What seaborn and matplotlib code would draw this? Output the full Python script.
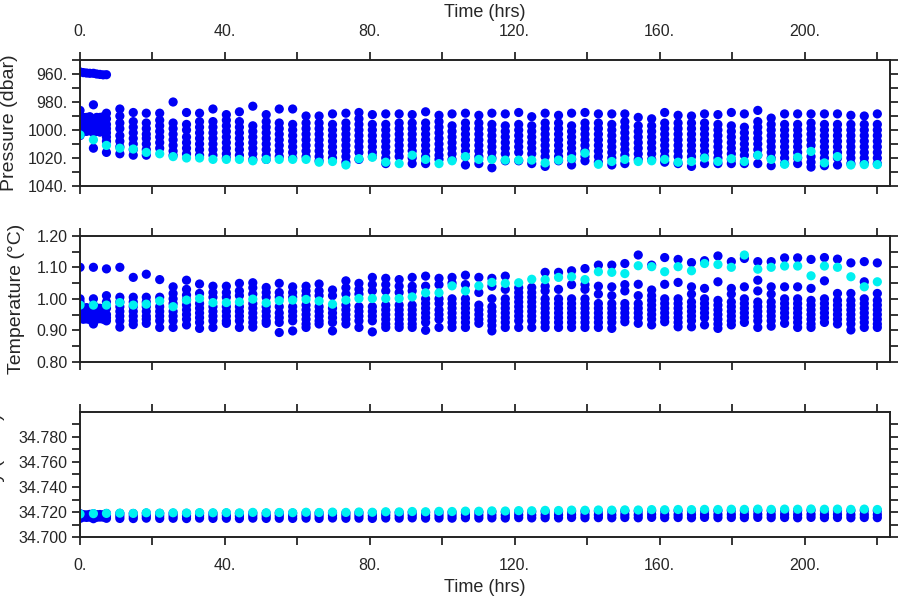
import matplotlib
matplotlib.use("Agg")
import matplotlib.pyplot as plt
import pandas as pd
import seaborn as sns
from matplotlib.ticker import FuncFormatter, MultipleLocator

# profile times (hrs)
TIME = [0.0, 3.7, 7.3, 11.0, 14.7, 18.3, 22.0, 25.7, 29.4, 33.0,
        36.7, 40.4, 44.0, 47.7, 51.4, 55.0, 58.7, 62.4, 66.0, 69.7,
        73.4, 77.0, 80.7, 84.4, 88.1, 91.7, 95.4, 99.1, 102.7, 106.4,
        110.1, 113.7, 117.4, 121.1, 124.7, 128.4, 132.1, 135.7, 139.4, 143.1,
        146.8, 150.4, 154.1, 157.8, 161.4, 165.1, 168.8, 172.4, 176.1, 179.8,
        183.4, 187.1, 190.8, 194.5, 198.1, 201.8, 205.5, 209.1, 212.8, 216.5,
        220.1]

# extra high-rate samples at the start of the record
EARLY_TIME = [0.9, 1.8, 2.7, 4.6, 5.5, 6.4]
EARLY_PRES = [[959.0, 991, 994.5, 998, 1001], [959.3, 991, 994.5, 998, 1001],
              [959.5, 990.5, 994, 997.5, 1000.5], [960.0, 991, 994.5, 998, 1001],
              [960.3, 991, 994.5, 998, 1001.5], [960.6, 990.5, 994, 997.5, 1001]]
EARLY_TEMP = [[0.935, 0.947, 0.958, 0.970], [0.936, 0.948, 0.960, 0.972],
              [0.934, 0.946, 0.958, 0.968], [0.935, 0.947, 0.959, 0.971],
              [0.937, 0.949, 0.960, 0.970], [0.935, 0.947, 0.958, 0.969]]
EARLY_SAL = [[34.7160, 34.7180], [34.7158, 34.7178], [34.7160, 34.7182],
             [34.7159, 34.7180], [34.7161, 34.7181], [34.7160, 34.7179]]

# pressure (dbar): all samples per profile, and the reference sensor
PRES_ALL = [
    [958.5, 986, 992, 995, 998, 1001, 1004],
    [959.5, 982, 993, 996, 999, 1002, 1013],
    [960.5, 988, 992, 996, 999, 1002, 1005, 1008, 1016],
    [985, 990, 995, 999, 1004, 1008, 1012, 1017],
    [987.5, 994, 998, 1002, 1006, 1010, 1014, 1018],
    [988, 995, 999, 1003, 1006, 1010, 1014, 1018],
    [988, 993, 997, 1001, 1005, 1009, 1013],
    [980, 995, 999, 1003, 1007, 1011, 1015, 1018],
    [987.5, 996, 1000, 1005, 1009, 1013, 1017],
    [988, 994, 998, 1002, 1006, 1010, 1014, 1018],
    [985, 994, 998, 1002, 1006, 1010, 1014, 1018],
    [989, 993, 997, 1001, 1005, 1009, 1013, 1017, 1020],
    [987, 994, 998, 1002, 1006, 1010, 1014, 1018],
    [983, 997, 1001, 1005, 1009, 1013, 1017, 1021],
    [989, 994, 998, 1002, 1006, 1010, 1014, 1018, 1021],
    [985, 995, 999, 1003, 1007, 1011, 1015, 1019],
    [985, 996, 1000, 1004, 1008, 1012, 1016, 1020],
    [990, 995, 999, 1003, 1007, 1011, 1015, 1019],
    [990, 995, 999, 1003, 1007, 1011, 1015, 1019, 1022],
    [988.5, 996, 1000, 1004, 1008, 1012, 1016, 1020],
    [988, 995, 999, 1003, 1007, 1011, 1015, 1019, 1023],
    [987.5, 992, 996, 1000, 1004, 1008, 1012, 1016, 1021],
    [989, 996, 1000, 1004, 1008, 1012, 1016, 1019],
    [988.5, 996, 1000, 1004, 1008, 1012, 1016, 1020, 1024],
    [988.5, 995, 999, 1003, 1007, 1011, 1015, 1019],
    [989, 995, 999, 1003, 1007, 1011, 1015, 1020, 1024],
    [987, 995, 999, 1003, 1007, 1011, 1015, 1019, 1024],
    [989.5, 994, 998, 1002, 1006, 1010, 1014, 1018, 1021],
    [988.5, 997, 1001, 1005, 1009, 1013, 1017, 1021],
    [988, 995, 999, 1003, 1007, 1011, 1015, 1019, 1025],
    [989.5, 995, 999, 1003, 1007, 1011, 1015, 1019, 1024],
    [988, 996, 1000, 1004, 1008, 1012, 1016, 1020, 1027],
    [988.5, 997, 1001, 1005, 1009, 1013, 1017, 1022],
    [987.5, 996, 1000, 1004, 1008, 1012, 1016, 1022],
    [990.5, 997, 1001, 1005, 1009, 1013, 1017, 1024],
    [988, 995, 999, 1003, 1007, 1011, 1015, 1019, 1026],
    [989.5, 995, 999, 1003, 1007, 1011, 1015, 1019, 1022],
    [988, 997, 1001, 1005, 1009, 1013, 1017, 1021, 1025],
    [987.5, 995, 999, 1003, 1007, 1011, 1015, 1019, 1022],
    [988.5, 995, 999, 1003, 1007, 1011, 1015, 1019, 1023],
    [988.5, 996, 1000, 1004, 1008, 1012, 1016, 1020, 1025],
    [988.5, 994, 998, 1002, 1006, 1010, 1014, 1018, 1024],
    [991, 997, 1001, 1005, 1009, 1013, 1017, 1021],
    [992, 997, 1001, 1005, 1009, 1013, 1017, 1021],
    [987.5, 995, 999, 1003, 1007, 1011, 1015, 1019, 1023],
    [989.5, 995, 999, 1003, 1007, 1011, 1015, 1019, 1024],
    [990, 995, 999, 1003, 1007, 1011, 1015, 1019, 1026],
    [988.5, 995, 999, 1003, 1007, 1011, 1015, 1019, 1024],
    [989, 996, 1000, 1004, 1008, 1012, 1016, 1020, 1024],
    [987.5, 997, 1001, 1005, 1009, 1013, 1017, 1021, 1024],
    [988.5, 998, 1002, 1006, 1010, 1014, 1018, 1024],
    [986, 994, 998, 1002, 1006, 1010, 1014, 1018, 1024],
    [991.5, 996, 1000, 1004, 1008, 1012, 1016, 1020, 1025.5],
    [988.5, 996, 1000, 1004, 1008, 1012, 1016, 1020, 1024],
    [988.5, 996, 1000, 1004, 1008, 1012, 1016, 1020, 1024],
    [988.5, 995, 999, 1003, 1007, 1011, 1019, 1023, 1026.5],
    [988.5, 996, 1000, 1004, 1008, 1012, 1016, 1020, 1025.5],
    [988.5, 996, 1000, 1004, 1008, 1012, 1016, 1020, 1025],
    [989.5, 996, 1000, 1004, 1008, 1012, 1016, 1020, 1024],
    [990, 996, 1000, 1004, 1008, 1012, 1016, 1020, 1023.5],
    [988.5, 996, 1000, 1004, 1008, 1012, 1016, 1020, 1024],
]
PRES_REF = [1003.5, 1007, 1011, 1013, 1013.6, 1016, 1017, 1019, 1020, 1020,
            1021, 1021, 1021, 1022, 1021, 1021, 1021, 1021, 1023, 1022.5,
            1025, 1020.5, 1019.5, 1023, 1024, 1018, 1021, 1024, 1022, 1019,
            1021, 1021, 1021.5, 1021.5, 1021.5, 1023.5, 1021.5, 1020.5, 1016.5, 1024.5,
            1022.5, 1021, 1022.5, 1022, 1021, 1023, 1022.5, 1020, 1022.5, 1020.5,
            1022.5, 1018, 1021, 1024.5, 1019.5, 1015.3, 1023.5, 1019, 1025, 1024.7,
            1024.7]

# temperature (deg C)
TEMP_ALL = [
    [1.10, 1.00, 0.99, 0.97, 0.96, 0.95, 0.94],
    [1.10, 1.00, 0.98, 0.96, 0.95, 0.94, 0.92],
    [1.095, 1.01, 0.99, 0.97, 0.95, 0.94, 0.93],
    [1.10, 1.005, 0.99, 0.975, 0.96, 0.945, 0.93, 0.91],
    [1.068, 1.005, 0.99, 0.975, 0.96, 0.945, 0.93, 0.918],
    [1.078, 1.005, 0.99, 0.975, 0.96, 0.945, 0.935, 0.922],
    [1.061, 1.005, 0.975, 0.96, 0.945, 0.93, 0.909],
    [1.038, 1.017, 1.00, 0.985, 0.96, 0.945, 0.93, 0.909],
    [1.059, 1.03, 1.012, 0.997, 0.98, 0.965, 0.95, 0.935, 0.917],
    [1.047, 1.017, 0.985, 0.97, 0.955, 0.94, 0.925, 0.906],
    [1.04, 1.02, 1.005, 0.975, 0.96, 0.945, 0.93, 0.909],
    [1.04, 1.02, 1.005, 0.975, 0.96, 0.945, 0.93, 0.922],
    [1.049, 1.025, 1.01, 0.975, 0.96, 0.945, 0.93, 0.909],
    [1.051, 1.035, 1.015, 0.985, 0.97, 0.955, 0.94, 0.925, 0.91],
    [1.036, 1.02, 1.005, 0.975, 0.96, 0.945, 0.93, 0.922],
    [1.049, 1.02, 1.005, 0.975, 0.955, 0.94, 0.925, 0.893],
    [1.038, 1.02, 1.005, 0.975, 0.96, 0.945, 0.93, 0.898],
    [1.04, 1.025, 1.01, 0.98, 0.965, 0.95, 0.935, 0.92, 0.909],
    [1.047, 1.025, 1.01, 0.975, 0.96, 0.945, 0.93, 0.92],
    [1.028, 1.01, 0.97, 0.955, 0.94, 0.925, 0.898],
    [1.057, 1.035, 1.015, 0.98, 0.965, 0.95, 0.935, 0.92],
    [1.049, 1.03, 1.015, 0.975, 0.96, 0.945, 0.93, 0.909],
    [1.068, 1.045, 1.025, 0.975, 0.96, 0.945, 0.93, 0.895],
    [1.065, 1.045, 1.025, 0.98, 0.965, 0.95, 0.935, 0.92, 0.909],
    [1.061, 1.04, 1.02, 0.98, 0.965, 0.95, 0.935, 0.92, 0.909],
    [1.068, 1.04, 1.025, 0.98, 0.965, 0.95, 0.935, 0.92, 0.909],
    [1.072, 1.04, 1.0, 0.985, 0.97, 0.955, 0.94, 0.925, 0.90],
    [1.065, 1.045, 1.0, 0.985, 0.965, 0.95, 0.935, 0.909],
    [1.068, 1.05, 1.0, 0.985, 0.97, 0.955, 0.94, 0.925, 0.909],
    [1.075, 1.045, 1.0, 0.985, 0.97, 0.955, 0.94, 0.925, 0.909],
    [1.068, 1.02, 0.98, 0.965, 0.95, 0.935, 0.922],
    [1.065, 1.04, 1.0, 0.975, 0.96, 0.945, 0.93, 0.915, 0.898],
    [1.072, 1.03, 1.0, 0.985, 0.97, 0.955, 0.94, 0.925, 0.909],
    [1.035, 1.02, 1.005, 0.99, 0.975, 0.96, 0.945, 0.93, 0.909],
    [1.036, 1.02, 1.005, 0.99, 0.975, 0.96, 0.945, 0.93, 0.909],
    [1.084, 1.04, 1.025, 1.0, 0.985, 0.97, 0.955, 0.94, 0.925, 0.909],
    [1.084, 1.03, 1.0, 0.985, 0.97, 0.955, 0.94, 0.925, 0.909],
    [1.089, 1.045, 1.0, 0.985, 0.97, 0.955, 0.94, 0.925, 0.909],
    [1.096, 1.045, 1.03, 1.0, 0.985, 0.97, 0.955, 0.94, 0.925, 0.909],
    [1.107, 1.04, 1.015, 0.985, 0.97, 0.955, 0.94, 0.925, 0.909],
    [1.107, 1.038, 1.01, 0.985, 0.97, 0.955, 0.94, 0.925, 0.906],
    [1.112, 1.045, 1.025, 0.985, 0.97, 0.955, 0.94, 0.927],
    [1.139, 1.046, 1.01, 0.985, 0.97, 0.955, 0.94, 0.922],
    [1.107, 1.028, 1.01, 0.995, 0.98, 0.965, 0.95, 0.935, 0.917],
    [1.131, 1.046, 1.0, 0.985, 0.97, 0.955, 0.94, 0.927],
    [1.125, 1.052, 1.0, 0.985, 0.97, 0.955, 0.94, 0.925, 0.911],
    [1.115, 1.038, 1.015, 0.99, 0.975, 0.96, 0.945, 0.93, 0.911],
    [1.121, 1.033, 1.0, 0.985, 0.97, 0.955, 0.94, 0.917],
    [1.136, 1.054, 0.995, 0.98, 0.965, 0.95, 0.935, 0.92, 0.906],
    [1.118, 1.033, 1.015, 0.99, 0.975, 0.96, 0.945, 0.93, 0.917],
    [1.128, 1.038, 1.0, 0.985, 0.97, 0.955, 0.94, 0.925],
    [1.118, 1.059, 1.025, 0.99, 0.975, 0.96, 0.945, 0.93, 0.909],
    [1.118, 1.038, 1.015, 0.99, 0.975, 0.96, 0.945, 0.93, 0.913],
    [1.13, 1.038, 1.0, 0.985, 0.97, 0.955, 0.94, 0.922],
    [1.13, 1.038, 1.0, 0.985, 0.97, 0.955, 0.94, 0.925, 0.909],
    [1.125, 1.033, 0.995, 0.98, 0.965, 0.95, 0.935, 0.92, 0.909],
    [1.131, 1.057, 1.0, 0.985, 0.97, 0.955, 0.94, 0.925],
    [1.126, 1.017, 0.995, 0.98, 0.965, 0.95, 0.935, 0.92],
    [1.114, 1.017, 0.995, 0.98, 0.965, 0.95, 0.935, 0.92, 0.901],
    [1.118, 1.054, 1.0, 0.985, 0.97, 0.955, 0.94, 0.925, 0.909],
    [1.114, 1.017, 0.995, 0.98, 0.965, 0.95, 0.935, 0.92, 0.909],
]
TEMP_REF = [0.98, 0.98, 0.98, 0.988, 0.98, 0.983, 0.993, 0.975, 0.996, 1.001,
            0.988, 0.988, 0.99, 0.999, 0.987, 0.994, 0.996, 0.998, 0.993, 0.983,
            0.996, 1.001, 1.001, 1.001, 1.001, 1.006, 1.019, 1.019, 1.041, 1.025,
            1.041, 1.052, 1.049, 1.051, 1.062, 1.061, 1.068, 1.07, 1.061, 1.086,
            1.084, 1.08, 1.105, 1.102, 1.086, 1.102, 1.089, 1.112, 1.109, 1.10,
            1.139, 1.094, 1.10, 1.104, 1.104, 1.073, 1.104, 1.10, 1.07, 1.038,
            1.054]

# salinity (PSU): low / middle / high samples per profile, and the reference sensor
SAL_LOW = [34.7150, 34.7148, 34.7151, 34.7150, 34.7149, 34.7152, 34.7150, 34.7151, 34.7149, 34.7152,
           34.7150, 34.7151, 34.7149, 34.7152, 34.7150, 34.7151, 34.7150, 34.7152, 34.7150, 34.7153,
           34.7151, 34.7152, 34.7150, 34.7153, 34.7152, 34.7154, 34.7152, 34.7153, 34.7152, 34.7155,
           34.7153, 34.7154, 34.7153, 34.7156, 34.7154, 34.7155, 34.7154, 34.7157, 34.7155, 34.7156,
           34.7155, 34.7157, 34.7155, 34.7158, 34.7156, 34.7157, 34.7155, 34.7158, 34.7156, 34.7157,
           34.7156, 34.7158, 34.7156, 34.7157, 34.7155, 34.7158, 34.7156, 34.7157, 34.7155, 34.7157,
           34.7156]
SAL_MID = [34.7170, 34.7168, 34.7171, 34.7170, 34.7169, 34.7172, 34.7170, 34.7171, 34.7170, 34.7172,
           34.7171, 34.7172, 34.7170, 34.7173, 34.7171, 34.7172, 34.7171, 34.7173, 34.7172, 34.7174,
           34.7172, 34.7173, 34.7172, 34.7175, 34.7173, 34.7176, 34.7174, 34.7175, 34.7174, 34.7177,
           34.7175, 34.7176, 34.7175, 34.7178, 34.7176, 34.7178, 34.7177, 34.7179, 34.7178, 34.7179,
           34.7178, 34.7180, 34.7179, 34.7181, 34.7179, 34.7180, 34.7179, 34.7181, 34.7180, 34.7181,
           34.7180, 34.7182, 34.7180, 34.7181, 34.7180, 34.7182, 34.7180, 34.7181, 34.7179, 34.7181,
           34.7180]
SAL_HIGH = [34.7188, 34.7187, 34.7189, 34.7190, 34.7189, 34.7192, 34.7190, 34.7191, 34.7190, 34.7192,
            34.7191, 34.7192, 34.7190, 34.7193, 34.7191, 34.7193, 34.7192, 34.7194, 34.7193, 34.7195,
            34.7193, 34.7195, 34.7194, 34.7197, 34.7196, 34.7198, 34.7197, 34.7199, 34.7198, 34.7201,
            34.7200, 34.7202, 34.7201, 34.7204, 34.7203, 34.7205, 34.7204, 34.7207, 34.7206, 34.7208,
            34.7207, 34.7209, 34.7208, 34.7211, 34.7210, 34.7211, 34.7210, 34.7212, 34.7211, 34.7213,
            34.7212, 34.7213, 34.7211, 34.7213, 34.7212, 34.7214, 34.7212, 34.7213, 34.7211, 34.7213,
            34.7211]
SAL_REF = [34.7185, 34.7188, 34.7190, 34.7192, 34.7190, 34.7195, 34.7192, 34.7195, 34.7193, 34.7196,
           34.7195, 34.7196, 34.7194, 34.7198, 34.7195, 34.7197, 34.7196, 34.7199, 34.7197, 34.7200,
           34.7198, 34.7201, 34.7199, 34.7203, 34.7202, 34.7205, 34.7203, 34.7206, 34.7205, 34.7208,
           34.7207, 34.7210, 34.7209, 34.7212, 34.7211, 34.7214, 34.7213, 34.7216, 34.7215, 34.7217,
           34.7216, 34.7218, 34.7217, 34.7220, 34.7219, 34.7221, 34.7220, 34.7222, 34.7221, 34.7223,
           34.7222, 34.7224, 34.7222, 34.7224, 34.7223, 34.7225, 34.7223, 34.7224, 34.7222, 34.7224,
           34.7221]

PALETTE = {"all": "#0000f5", "ref": "#00f0f0"}


def panel_frame(all_vals, ref_vals, early_vals):
    """Long table: every sample first, reference sensor last so it plots on top."""
    rows = []
    for t, vals in zip(TIME, all_vals):
        rows += [{"Time": t, "Value": v, "Kind": "all"} for v in vals]
    for t, vals in zip(EARLY_TIME, early_vals):
        rows += [{"Time": t, "Value": v, "Kind": "all"} for v in vals]
    rows += [{"Time": t, "Value": v, "Kind": "ref"} for t, v in zip(TIME, ref_vals)]
    return pd.DataFrame(rows)


sal_all = [list(v) for v in zip(SAL_LOW, SAL_MID, SAL_HIGH)]
pres_df = panel_frame(PRES_ALL, PRES_REF, EARLY_PRES)
temp_df = panel_frame(TEMP_ALL, TEMP_REF, EARLY_TEMP)
sal_df = panel_frame(sal_all, SAL_REF, EARLY_SAL)

sns.set_style("ticks")
plt.rcParams["font.family"] = ["Liberation Sans", "DejaVu Sans"]

fig = plt.figure(figsize=(9, 6), dpi=100)
ax1 = fig.add_axes([0.0889, 0.690, 0.9, 0.210])
ax2 = fig.add_axes([0.0889, 0.397, 0.9, 0.210])
ax3 = fig.add_axes([0.0889, 0.1045, 0.9, 0.2093])

panels = [
    (ax1, pres_df, (1040, 950), 20, 10, "{:.0f}.", "Pressure (dbar)", -0.077),
    (ax2, temp_df, (0.80, 1.20), 0.1, 0.05, "{:.2f}", "Temperature (°C)", -0.068),
    (ax3, sal_df, (34.700, 34.7998), 0.02, 0.01, "{:.3f}", "Salinity (PSU)", -0.093),
]

for ax, df, ylim, major, minor, fmt, ylabel, lx in panels:
    sns.scatterplot(data=df, x="Time", y="Value", hue="Kind", palette=PALETTE,
                    s=44, linewidth=0, legend=False, ax=ax)
    ax.set_xlim(0, 223.6)
    ax.set_ylim(*ylim)
    ax.xaxis.set_major_locator(MultipleLocator(40))
    ax.xaxis.set_minor_locator(MultipleLocator(20))
    ax.xaxis.set_major_formatter(FuncFormatter(lambda v, _: f"{v:.0f}."))
    ax.yaxis.set_major_locator(MultipleLocator(major))
    ax.yaxis.set_minor_locator(MultipleLocator(minor))
    ax.yaxis.set_major_formatter(FuncFormatter(lambda v, _, f=fmt: f.format(v)))
    ax.tick_params(which="both", direction="out", top=True, right=True,
                   length=6, width=1.1, color="black", labelsize=11.5)
    ax.tick_params(axis="x", pad=9, labelbottom=False, labeltop=False)
    ax.tick_params(axis="y", pad=3)
    for sp in ax.spines.values():
        sp.set_linewidth(1.4)
        sp.set_color("#222222")
    ax.set_xlabel("")
    ax.set_ylabel(ylabel, fontsize=14)
    ax.yaxis.set_label_coords(lx, 0.5)

ax1.tick_params(axis="x", labeltop=True)
ax1.xaxis.set_label_position("top")
ax1.set_xlabel("Time (hrs)", fontsize=13, labelpad=5)
ax3.tick_params(axis="x", labelbottom=True)
ax3.set_xlabel("Time (hrs)", fontsize=13, labelpad=4)

fig.savefig("out.png", dpi=100)
